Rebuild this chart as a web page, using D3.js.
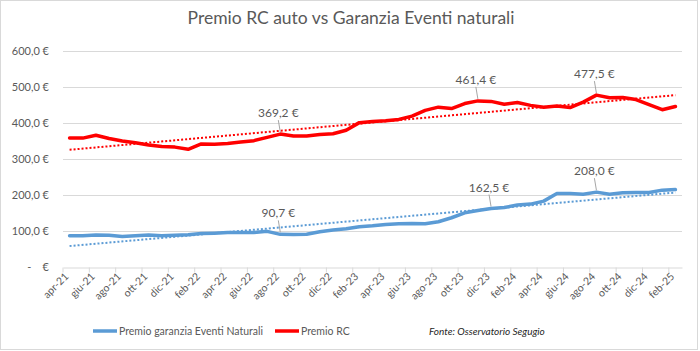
<!DOCTYPE html>
<html>
<head>
<meta charset="utf-8">
<script src="https://cdn.jsdelivr.net/npm/d3@7"></script>
<style>
  body { margin: 0; background: #fff; }
  svg text { font-family: Lato, "Noto Sans", sans-serif; }
</style>
</head>
<body>
<div id="chart"></div>
<script>
/* ********* ********* ********* ********* ********* ********* *********
 * Data
 * ********* ********* ********* ********* ********* ********* ********* */
var months = ["apr-21","mag-21","giu-21","lug-21","ago-21","set-21","ott-21","nov-21","dic-21",
  "gen-22","feb-22","mar-22","apr-22","mag-22","giu-22","lug-22","ago-22","set-22","ott-22","nov-22","dic-22",
  "gen-23","feb-23","mar-23","apr-23","mag-23","giu-23","lug-23","ago-23","set-23","ott-23","nov-23","dic-23",
  "gen-24","feb-24","mar-24","apr-24","mag-24","giu-24","lug-24","ago-24","set-24","ott-24","nov-24","dic-24",
  "gen-25","feb-25"];

var premioRC = [358.5, 358, 366, 357, 350, 345, 339, 335, 333, 327, 342, 341, 343, 347, 351, 360,
  369.2, 364, 364, 368, 370, 380, 401, 404, 406, 410, 419, 435, 444, 440, 454, 461.4,
  460, 452, 457, 449, 443.6, 447, 443, 458, 477.5, 470, 471, 465, 451, 437, 446];

var premioEventi = [86.8, 87, 88.7, 88, 85, 87, 88.7, 87, 88, 89.5, 93, 94, 95.5, 96, 96, 99,
  90.7, 90.6, 91, 98, 102.6, 106, 112, 114.5, 118, 120, 121, 120, 125.7, 136.8, 150.6, 157,
  162.5, 165.4, 172, 174.7, 183, 204, 204, 202, 208.0, 202, 206, 207, 207, 213.5, 215];

// months that carry a value label
var labelsRC = ["ago-22", "nov-23", "ago-24"];
var labelsEventi = ["ago-22", "dic-23", "ago-24"];

var yTicks = [0, 100, 200, 300, 400, 500, 600];

/* ********* ********* ********* ********* ********* ********* *********
 * Chart
 * ********* ********* ********* ********* ********* ********* ********* */
var W = 700, H = 351;
var margin = { top: 51, right: 18, bottom: 84, left: 63 };
var w = W - margin.left - margin.right;
var h = 267 - margin.top;

var svg = d3.select("#chart").append("svg")
  .attr("width", W)
  .attr("height", H);

svg.append("rect")
  .attr("x", 0.5).attr("y", 0.5)
  .attr("width", W - 3).attr("height", H - 2)
  .style("fill", "#fff")
  .style("stroke", "#d9d9d9");

svg.append("text")
  .attr("x", 351).attr("y", 24)
  .attr("text-anchor", "middle")
  .style("font-size", "17.5px")
  .style("fill", "#595959")
  .text("Premio RC auto vs Garanzia Eventi naturali");

var g = svg.append("g")
  .attr("transform", "translate(" + margin.left + "," + margin.top + ")");

var x = d3.scaleBand().domain(months).range([0, w]);
var y = d3.scaleLinear().domain([0, 600]).range([h, 0]);
var cx = function(m) { return x(m) + x.bandwidth() / 2; };

var fmt = function(v) { return d3.format(".1f")(v).replace(".", ",") + " €"; };

/* grid */
g.selectAll(".grid")
  .data(yTicks.filter(function(d) { return d > 0; }))
  .enter().append("line")
    .attr("x1", 0).attr("x2", w)
    .attr("y1", function(d) { return Math.round(y(d)) + 0.5; })
    .attr("y2", function(d) { return Math.round(y(d)) + 0.5; })
    .style("stroke", "#d9d9d9");

/* y labels */
g.selectAll(".ylab")
  .data(yTicks)
  .enter().append("text")
    .attr("x", -14)
    .attr("y", function(d) { return y(d) + 4; })
    .attr("text-anchor", "end")
    .style("font-size", "11px")
    .style("fill", "#595959")
    .style("white-space", "pre")
    .text(function(d) { return d === 0 ? "-    €" : d3.format(".1f")(d).replace(".", ",") + " €"; });

/* x axis */
var xAxis = d3.axisBottom(x)
  .tickValues(months.filter(function(d, i) { return i % 2 === 0; }))
  .tickSize(5)
  .tickSizeOuter(0);

var ax = g.append("g")
  .attr("transform", "translate(0," + (Math.round(h) + 0.5) + ")")
  .call(xAxis);
ax.select(".domain").style("stroke", "#d9d9d9");
ax.selectAll(".tick line")
  .attr("transform", "translate(" + (-x.bandwidth() / 2) + ",0)")
  .style("stroke", "#d9d9d9");
ax.selectAll(".tick text")
  .attr("transform", "translate(-3,7) rotate(-45)")
  .attr("y", 0).attr("dy", "0.35em").attr("x", 0)
  .attr("text-anchor", "end")
  .style("font-family", "Lato, sans-serif")
  .style("font-size", "10.5px")
  .style("fill", "#595959");

/* trend lines (least squares, like the spreadsheet trendline) */
function trend(vals) {
  var n = vals.length, mx = (n - 1) / 2, my = d3.mean(vals);
  var sxy = d3.sum(vals, function(v, i) { return (i - mx) * (v - my); });
  var sxx = d3.sum(vals, function(v, i) { return (i - mx) * (i - mx); });
  var b = sxy / sxx, a = my - b * mx;
  return [[0, a], [n - 1, a + b * (n - 1)]];
}

var line = d3.line()
  .x(function(d, i) { return cx(months[i]); })
  .y(function(d) { return y(d); });

var tline = d3.line()
  .x(function(d) { return cx(months[d[0]]); })
  .y(function(d) { return y(d[1]); });

var series = [
  { vals: premioEventi, color: "#5b9bd5", labels: labelsEventi },
  { vals: premioRC, color: "#ff0000", labels: labelsRC }
];

series.forEach(function(s) {
  g.append("path")
    .attr("d", tline(trend(s.vals)))
    .style("fill", "none")
    .style("stroke", s.color)
    .style("stroke-width", 2)
    .style("stroke-dasharray", "2,2");
});

series.forEach(function(s) {
  g.append("path")
    .attr("d", line(s.vals))
    .style("fill", "none")
    .style("stroke", s.color)
    .style("stroke-width", 3.5)
    .style("stroke-linejoin", "round")
    .style("stroke-linecap", "round");
});

/* data labels */
series.forEach(function(s) {
  s.labels.forEach(function(m) {
    var v = s.vals[months.indexOf(m)];
    var px = cx(m), py = y(v);
    var lx = px - 2, ly = py - 17;
    g.append("line")
      .attr("x1", lx).attr("y1", ly + 3)
      .attr("x2", px).attr("y2", py - 2)
      .style("stroke", "#a6a6a6");
    g.append("text")
      .attr("x", lx).attr("y", ly)
      .attr("text-anchor", "middle")
      .style("font-size", "12px")
      .style("fill", "#595959")
      .text(fmt(v));
  });
});

/* legend */
var leg = svg.append("g").attr("transform", "translate(0,331)");
[
  { x: 93, color: "#5b9bd5", text: "Premio garanzia Eventi Naturali" },
  { x: 275, color: "#ff0000", text: "Premio RC" }
].forEach(function(d) {
  leg.append("line")
    .attr("x1", d.x).attr("x2", d.x + 24)
    .style("stroke", d.color)
    .style("stroke-width", 3.5);
  leg.append("text")
    .attr("x", d.x + 26).attr("y", 4)
    .style("font-size", "10.5px")
    .style("fill", "#595959")
    .text(d.text);
});
leg.append("text")
  .attr("x", 429).attr("y", 4)
  .style("font-size", "10px")
  .style("font-style", "italic")
  .style("fill", "#262626")
  .text("Fonte: Osservatorio Segugio");
</script>
</body>
</html>
